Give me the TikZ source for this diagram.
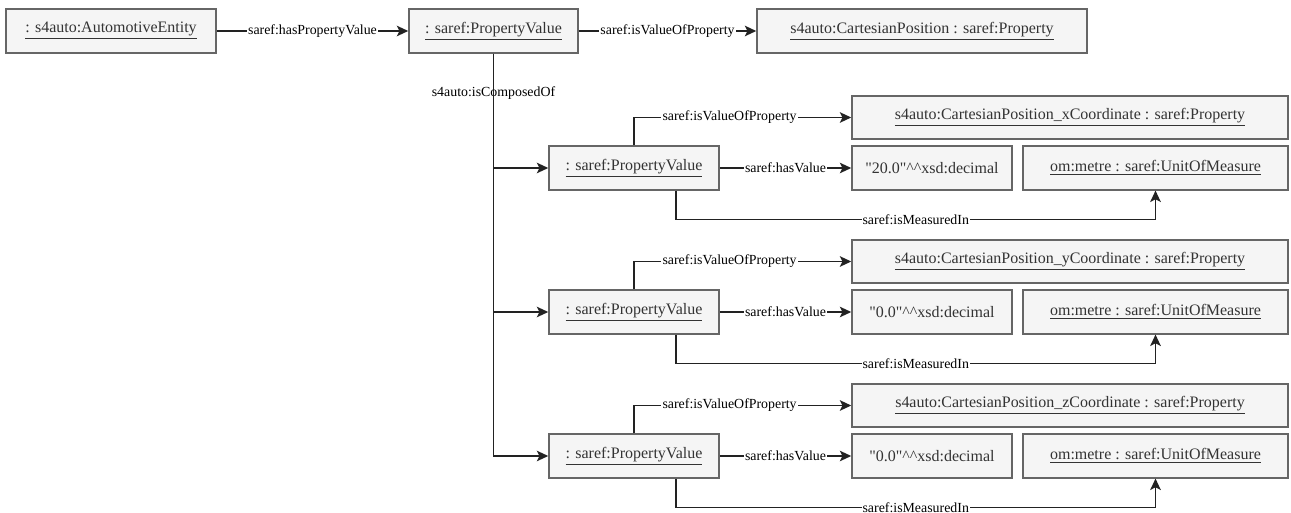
\documentclass[tikz,border=0pt]{standalone}
\usepackage{fontspec}
\setmainfont{Liberation Serif}
\usetikzlibrary{arrows.meta}
\definecolor{boxline}{HTML}{666666}
\definecolor{boxfill}{HTML}{F5F5F5}
\definecolor{boxtext}{HTML}{333333}
\definecolor{edgeline}{HTML}{222222}

\tikzset{
  obj/.style={draw=boxline, fill=boxfill, line width=0.9pt, text=boxtext,
    minimum height=0.87cm, inner sep=2pt, font=\fontsize{9.1}{11}\selectfont},
  rel/.style={draw=edgeline, line width=0.9pt, -{Stealth[length=6.5pt,width=6pt,inset=1.5pt]}},
  lbl/.style={fill=white, inner sep=0.6pt, text=black, font=\fontsize{7.9}{9}\selectfont},
}

\begin{document}
\begin{tikzpicture}[x=0.02cm, y=-0.02cm]
  \useasboundingbox (0,0) rectangle (1291,513);

  \node[obj, minimum width=4.2cm] (ent) at (111,31) {\underline{: s4auto:AutomotiveEntity}};
  \node[obj, minimum width=3.38cm] (pv0) at (493.5,31) {\underline{: saref:PropertyValue}};
  \node[obj, minimum width=6.6cm] (pos) at (922,31) {\underline{s4auto:CartesianPosition : saref:Property}};

  \draw[rel] (ent) -- node[lbl]{saref:hasPropertyValue} (pv0);
  \draw[rel] (pv0) -- node[lbl]{saref:isValueOfProperty} (pos);

  % one row per coordinate
  \foreach \i/\yy/\num/\ax in {1/168/20.0/x, 2/312/0.0/y, 3/456/0.0/z}{
    \node[obj, minimum width=3.4cm] (pv\i) at (634,\yy) {\underline{: saref:PropertyValue}};
    \node[obj, minimum width=8.72cm, minimum height=0.86cm] (coord\i) at (1070,\yy-50.5)
      {\underline{s4auto:CartesianPosition\_\ax Coordinate : saref:Property}};
    \node[obj, minimum width=3.2cm] (val\i) at (932,\yy) {\textquotedbl\num\textquotedbl\textasciicircum\textasciicircum xsd:decimal};
    \node[obj, minimum width=5.3cm] (unit\i) at (1155.5,\yy) {\underline{om:metre : saref:UnitOfMeasure}};

    \draw[rel] (pv\i.north) |- node[lbl, pos=0.72]{saref:isValueOfProperty} (coord\i.west);
    \draw[rel] (pv\i) -- node[lbl]{saref:hasValue} (val\i);
    \draw[rel] ([xshift=0.84cm]pv\i.south) -- ++(0,29) -| node[lbl, pos=0.25]{saref:isMeasuredIn} (unit\i.south);
  }

  \draw[rel] (pv0.south) |- node[lbl, pos=0.174]{s4auto:isComposedOf} (pv1.west);
  \draw[rel] (pv0.south) |- (pv2.west);
  \draw[rel] (pv0.south) |- (pv3.west);
\end{tikzpicture}
\end{document}
